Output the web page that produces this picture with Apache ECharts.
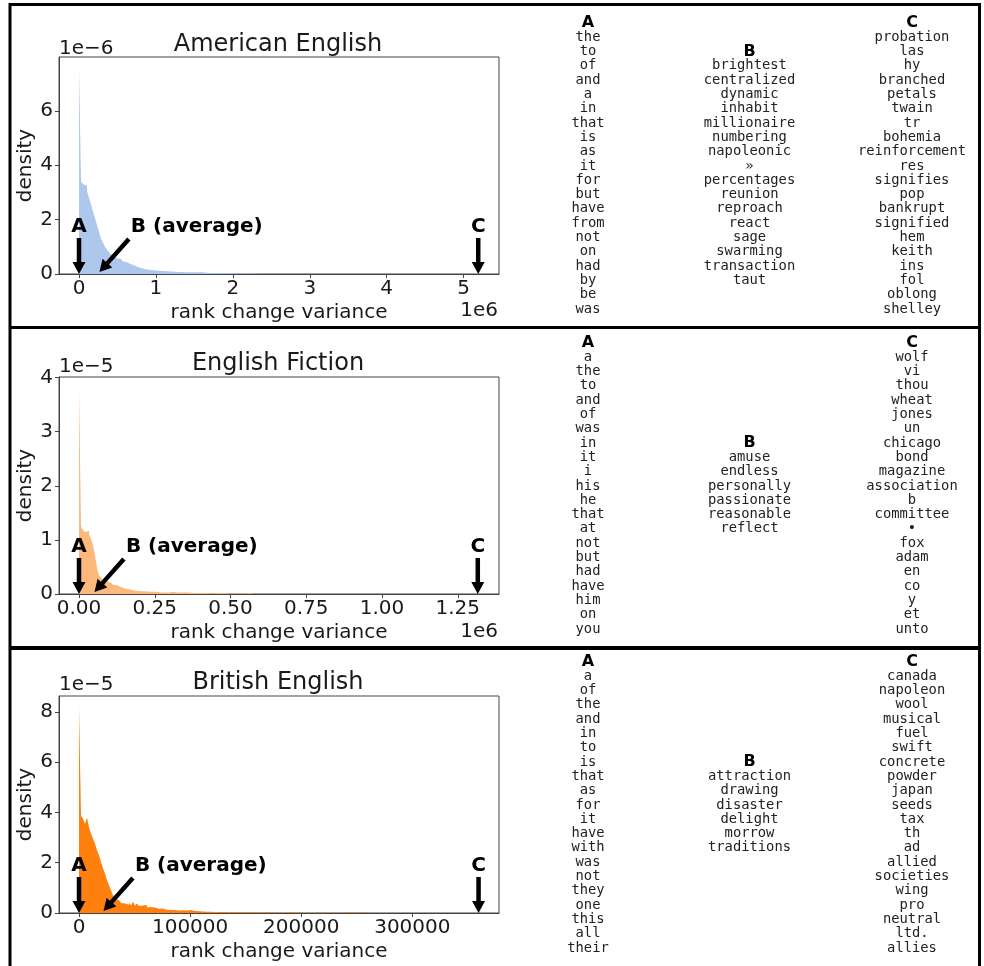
<!DOCTYPE html>
<html>
<head>
<meta charset="utf-8">
<script src="https://cdn.jsdelivr.net/npm/echarts@6/dist/echarts.min.js"></script>
<style>
html,body{margin:0;padding:0;background:#fff;}
#chart{width:984px;height:966px;}
</style>
</head>
<body>
<div id="chart"></div>
<script>
// ---------- DATA ----------
const histBins = 200;
const titles = ['American English', 'English Fiction', 'British English'];
const markLabels = ['A', 'B (average)', 'C'];

// American English: bin width 26000, density in units of 1e-6
const amBinWidth = 26000;
const amDensity = [
  7.6, 3.4, 3.3, 3.25, 3.05, 2.8, 2.55, 2.3, 2.05, 1.8,
  1.55, 1.3, 1.15, 1.0, 0.9, 0.8, 0.72, 0.66, 0.62, 0.58,
  0.55, 0.5, 0.46, 0.43, 0.4, 0.36, 0.33, 0.3, 0.27, 0.24,
  0.22, 0.2, 0.19, 0.17, 0.16, 0.15, 0.14, 0.13, 0.13, 0.12,
  0.11, 0.11, 0.1, 0.1, 0.09, 0.09, 0.08, 0.08, 0.08, 0.07,
  0.07, 0.07, 0.07, 0.06, 0.07, 0.06, 0.06, 0.06, 0.05, 0.06,
  0.05, 0.06, 0.05, 0.05, 0.05, 0.04, 0.05, 0.04, 0.05, 0.04,
  0.04, 0.04, 0.05, 0.03, 0.04, 0.03, 0.04, 0.03, 0.03, 0.03,
  0.04, 0.02, 0.03, 0.02, 0.03, 0.02, 0.01, 0.02, 0.01, 0.03
];
const amMarks = [0, 245000, 5190000];
const amXTicks = [0, 1000000, 2000000, 3000000, 4000000, 5000000];
const amXTickLabels = ['0', '1', '2', '3', '4', '5'];
const amYTicks = [0, 2, 4, 6];

// English Fiction: bin width 6600, density in units of 1e-5
const fiBinWidth = 6600;
const fiDensity = [
  3.82, 1.25, 1.18, 1.14, 1.17, 1.1, 1.02, 0.9, 0.72, 0.48,
  0.34, 0.3, 0.26, 0.23, 0.22, 0.21, 0.19, 0.17, 0.16, 0.15,
  0.13, 0.12, 0.1, 0.1, 0.09, 0.08, 0.07, 0.07, 0.06, 0.06,
  0.05, 0.05, 0.05, 0.05, 0.04, 0.05, 0.04, 0.04, 0.04, 0.04,
  0.03, 0.04, 0.03, 0.03, 0.03, 0.03, 0.04, 0.03, 0.03, 0.02,
  0.03, 0.02, 0.03, 0.02, 0.03, 0.02, 0.02, 0.03, 0.02, 0.02,
  0.02, 0.02, 0.02, 0.03, 0.02, 0.02, 0.01, 0.02, 0.02, 0.01,
  0.02, 0.01, 0.02, 0.02, 0.01, 0.02, 0.01, 0.02, 0.01, 0.02,
  0.01, 0.02, 0.01, 0.01, 0.02, 0.01, 0.02
];
const fiMarks = [0, 45800, 1316000];
const fiXTicks = [0, 250000, 500000, 750000, 1000000, 1250000];
const fiXTickLabels = ['0.00', '0.25', '0.50', '0.75', '1.00', '1.25'];
const fiYTicks = [0, 1, 2, 3, 4];

// British English: bin width 1800, density in units of 1e-5
const brBinWidth = 1800;
const brDensity = [
  8.22, 3.87, 3.75, 3.55, 3.8, 3.4, 3.15, 2.95, 2.75, 2.5,
  2.3, 2.03, 1.77, 1.57, 1.3, 1.1, 0.9, 0.71, 0.58, 0.51,
  0.45, 0.4, 0.38, 0.36, 0.33, 0.42, 0.3, 0.45, 0.3, 0.38,
  0.28, 0.3, 0.25, 0.32, 0.22, 0.24, 0.2, 0.22, 0.18, 0.17,
  0.16, 0.18, 0.14, 0.13, 0.15, 0.12, 0.11, 0.12, 0.1, 0.1,
  0.1, 0.11, 0.09, 0.1, 0.09, 0.12, 0.1, 0.08, 0.09, 0.07,
  0.07, 0.06, 0.07, 0.05, 0.06, 0.05, 0.05, 0.04, 0.05, 0.04,
  0.04, 0.04, 0.03, 0.04, 0.03, 0.03, 0.04, 0.03, 0.02, 0.03,
  0.03, 0.02, 0.04, 0.02, 0.02, 0.03, 0.02, 0.02, 0.04, 0.02,
  0.02, 0.01, 0.02, 0.03, 0.01, 0.02, 0.01, 0.01, 0.03, 0.01,
  0.01, 0.02, 0.01, 0.01, 0.01, 0.04, 0.01, 0.01, 0.01, 0.01,
  0.01, 0.01, 0.03, 0.01, 0.01, 0.01, 0.01, 0, 0.01, 0.01,
  0.01, 0.01, 0, 0.01, 0.03, 0.01, 0, 0.01, 0.01, 0,
  0.01, 0.01, 0, 0.01, 0.01, 0.03, 0, 0.01, 0, 0.01,
  0, 0.01, 0, 0.03, 0.01, 0, 0, 0, 0, 0,
  0, 0, 0, 0, 0, 0, 0, 0, 0, 0,
  0, 0, 0, 0, 0, 0, 0, 0, 0, 0,
  0, 0, 0, 0, 0, 0, 0, 0, 0, 0,
  0, 0, 0, 0, 0, 0, 0, 0, 0, 0,
  0, 0, 0, 0, 0, 0, 0, 0, 0, 0.03
];
const brMarks = [0, 20600, 359600];
const brXTicks = [0, 100000, 200000, 300000];
const brXTickLabels = ['0', '100000', '200000', '300000'];
const brYTicks = [0, 2, 4, 6, 8];

const yOffsetTexts = ['1e\u22126', '1e\u22125', '1e\u22125'];
const xOffsetTexts = ['1e6', '1e6', ''];

// Word lists
const amA = ['the','to','of','and','a','in','that','is','as','it','for','but','have','from','not','on','had','by','be','was'];
const amB = ['brightest','centralized','dynamic','inhabit','millionaire','numbering','napoleonic','\u00bb','percentages','reunion','reproach','react','sage','swarming','transaction','taut'];
const amC = ['probation','las','hy','branched','petals','twain','tr','bohemia','reinforcement','res','signifies','pop','bankrupt','signified','hem','keith','ins','fol','oblong','shelley'];
const fiA = ['a','the','to','and','of','was','in','it','i','his','he','that','at','not','but','had','have','him','on','you'];
const fiB = ['amuse','endless','personally','passionate','reasonable','reflect'];
const fiC = ['wolf','vi','thou','wheat','jones','un','chicago','bond','magazine','association','b','committee','\u2022','fox','adam','en','co','y','et','unto'];
const brA = ['a','of','the','and','in','to','is','that','as','for','it','have','with','was','not','they','one','this','all','their'];
const brB = ['attraction','drawing','disaster','delight','morrow','traditions'];
const brC = ['canada','napoleon','wool','musical','fuel','swift','concrete','powder','japan','seeds','tax','th','ad','allied','societies','wing','pro','neutral','ltd.','allies'];

// ---------- LAYOUT / STYLE ----------
const FONT = '"DejaVu Sans", "Liberation Sans", sans-serif';
const MONO = '"DejaVu Sans Mono", "Liberation Mono", monospace';
const INK = '#1a1a1a';
const FRAME = '#444';
const GRID_LEFT = 59, GRID_W = 440, GRID_H = 217;
const gridTops = [57, 377, 696];
const titleTops = [32.5, 352, 670.5];
const yOffY = [49, 367, 685];
const xOffY = [311, 632, 0];
const wordCenters = [166, 486, 805];
const colX = [588, 749.5, 912];
const LINE = 14.3;

const panels = [
  {dens: amDensity, bw: amBinWidth, color: '#aec7ec', xTicks: amXTicks, xLabels: amXTickLabels, yTicks: amYTicks, marks: amMarks, cols: [amA, amB, amC]},
  {dens: fiDensity, bw: fiBinWidth, color: '#fcb97b', xTicks: fiXTicks, xLabels: fiXTickLabels, yTicks: fiYTicks, marks: fiMarks, cols: [fiA, fiB, fiC]},
  {dens: brDensity, bw: brBinWidth, color: '#ff800e', xTicks: brXTicks, xLabels: brXTickLabels, yTicks: brYTicks, marks: brMarks, cols: [brA, brB, brC]}
];

function arrowPolygon(tail, tip, shaftW, headW, headL) {
  const dx = tip[0] - tail[0], dy = tip[1] - tail[1];
  const len = Math.hypot(dx, dy);
  const ux = dx / len, uy = dy / len, nx = -uy, ny = ux;
  const bx = tip[0] - ux * headL, by = tip[1] - uy * headL;
  return [
    [tail[0] + nx * shaftW / 2, tail[1] + ny * shaftW / 2],
    [bx + nx * shaftW / 2, by + ny * shaftW / 2],
    [bx + nx * headW / 2, by + ny * headW / 2],
    [tip[0], tip[1]],
    [bx - nx * headW / 2, by - ny * headW / 2],
    [bx - nx * shaftW / 2, by - ny * shaftW / 2],
    [tail[0] - nx * shaftW / 2, tail[1] - ny * shaftW / 2]
  ];
}

const grid = [], xAxis = [], yAxis = [], series = [], title = [], graphic = [];

panels.forEach((p, i) => {
  const dataMax = histBins * p.bw;
  const margin = 0.05 * dataMax;
  const yMax = Math.max.apply(null, p.dens) * 1.05;
  grid.push({left: GRID_LEFT, top: gridTops[i], width: GRID_W, height: GRID_H,
    show: true, borderColor: FRAME, borderWidth: 1, backgroundColor: 'transparent',
    containLabel: false, outerBoundsMode: 'none'});
  xAxis.push({
    gridIndex: i, type: 'value', min: -margin, max: dataMax + margin,
    splitLine: {show: false},
    axisLine: {show: true, onZero: false, lineStyle: {color: FRAME, width: 1}},
    axisTick: {show: true, inside: false, length: 4, lineStyle: {color: FRAME}, customValues: p.xTicks},
    axisLabel: {customValues: p.xTicks, margin: 5, fontSize: 20, fontFamily: FONT, color: INK,
      formatter: v => { const k = p.xTicks.findIndex(t => Math.abs(t - v) < 1e-6 * dataMax); return k >= 0 ? p.xLabels[k] : ''; }},
    name: 'rank change variance', nameLocation: 'middle', nameGap: 29, nameMoveOverlap: false,
    nameTextStyle: {fontSize: 20, fontFamily: FONT, color: INK}
  });
  yAxis.push({
    gridIndex: i, type: 'value', min: 0, max: yMax,
    splitLine: {show: false},
    axisLine: {show: true, onZero: false, lineStyle: {color: FRAME, width: 1}},
    axisTick: {show: true, inside: false, length: 4, lineStyle: {color: FRAME}, customValues: p.yTicks},
    axisLabel: {customValues: p.yTicks, margin: 6, fontSize: 20, fontFamily: FONT, color: INK, formatter: v => String(Math.round(v))},
    name: 'density', nameLocation: 'middle', nameGap: 23, nameMoveOverlap: false,
    nameTextStyle: {fontSize: 20, fontFamily: FONT, color: INK}
  });
  // histogram outline: each bin contributes its left and right edge at its density
  const outline = [[0, 0]];
  p.dens.forEach((d, k) => { outline.push([k * p.bw, d]); outline.push([(k + 1) * p.bw, d]); });
  outline.push([p.dens.length * p.bw, 0]);
  series.push({
    type: 'line', xAxisIndex: i, yAxisIndex: i, silent: true,
    symbol: 'none', showSymbol: false, clip: true, z: 2, sampling: null,
    lineStyle: {width: 0, opacity: 0},
    areaStyle: {color: p.color, opacity: 1, origin: 'start'},
    data: outline
  });
  series.push({
    type: 'custom', xAxisIndex: i, yAxisIndex: i, silent: true, clip: false, z: 10,
    encode: {x: 0},
    data: p.marks.map((m, k) => [m, k]),
    renderItem: (params, api) => {
      const k = api.value(1);
      const xy = api.coord([api.value(0), 0]);
      let tail, tip, tx, align;
      if (k === 1) {
        tail = [xy[0] + 31, xy[1] - 35]; tip = [xy[0] + 1.6, xy[1] - 1.9]; tx = xy[0] + 33; align = 'left';
      } else {
        tail = [xy[0], xy[1] - 36]; tip = [xy[0], xy[1]]; tx = xy[0]; align = 'center';
      }
      return {type: 'group', children: [
        {type: 'polygon', shape: {points: arrowPolygon(tail, tip, 4.5, 13, 12)}, style: {fill: '#000'}},
        {type: 'text', x: tx, y: xy[1] - 47.3,
          style: {text: markLabels[k], font: 'bold 20px ' + FONT, fill: '#000',
            align: align, verticalAlign: 'middle', textAlign: align, textVerticalAlign: 'middle'}}
      ]};
    }
  });
  title.push({text: titles[i], left: GRID_LEFT + GRID_W / 2 - 1, top: titleTops[i], textAlign: 'center', padding: 0,
    textStyle: {fontSize: 24, fontWeight: 'normal', fontFamily: FONT, color: INK}});
  graphic.push({type: 'text', x: GRID_LEFT, y: yOffY[i],
    style: {text: yOffsetTexts[i], font: '20px ' + FONT, fill: INK, align: 'left', verticalAlign: 'middle', textAlign: 'left', textVerticalAlign: 'middle'}});
  if (xOffsetTexts[i]) {
    graphic.push({type: 'text', x: GRID_LEFT + GRID_W - 1, y: xOffY[i],
      style: {text: xOffsetTexts[i], font: '20px ' + FONT, fill: INK, align: 'right', verticalAlign: 'middle', textAlign: 'right', textVerticalAlign: 'middle'}});
  }
  ['A', 'B', 'C'].forEach((h, c) => {
    const words = p.cols[c];
    const cy = wordCenters[i];
    graphic.push({type: 'text', x: colX[c], y: cy - words.length * LINE / 2,
      style: {text: h, font: 'bold 16px ' + FONT, fill: '#000', align: 'center', verticalAlign: 'middle', textAlign: 'center', textVerticalAlign: 'middle'}});
    graphic.push({type: 'text', x: colX[c], y: cy + LINE / 2,
      style: {text: words.join('\n'), font: '13.8px ' + MONO, lineHeight: LINE, fill: '#222',
        align: 'center', verticalAlign: 'middle', textAlign: 'center', textVerticalAlign: 'middle'}});
  });
});

// frame lines
graphic.push({type: 'rect', shape: {x: 10, y: 4.5, width: 969.5, height: 975}, style: {fill: 'none', stroke: '#000', lineWidth: 3}, z: 100});
graphic.push({type: 'line', shape: {x1: 10, y1: 327.5, x2: 979.5, y2: 327.5}, style: {stroke: '#000', lineWidth: 3}, z: 100});
graphic.push({type: 'line', shape: {x1: 10, y1: 648, x2: 979.5, y2: 648}, style: {stroke: '#000', lineWidth: 4}, z: 100});

const chart = echarts.init(document.getElementById('chart'), null, {renderer: 'canvas', width: 984, height: 966});
chart.setOption({
  animation: false,
  backgroundColor: '#fff',
  title: title,
  grid: grid,
  xAxis: xAxis,
  yAxis: yAxis,
  series: series,
  graphic: graphic
});
</script>
</body>
</html>
